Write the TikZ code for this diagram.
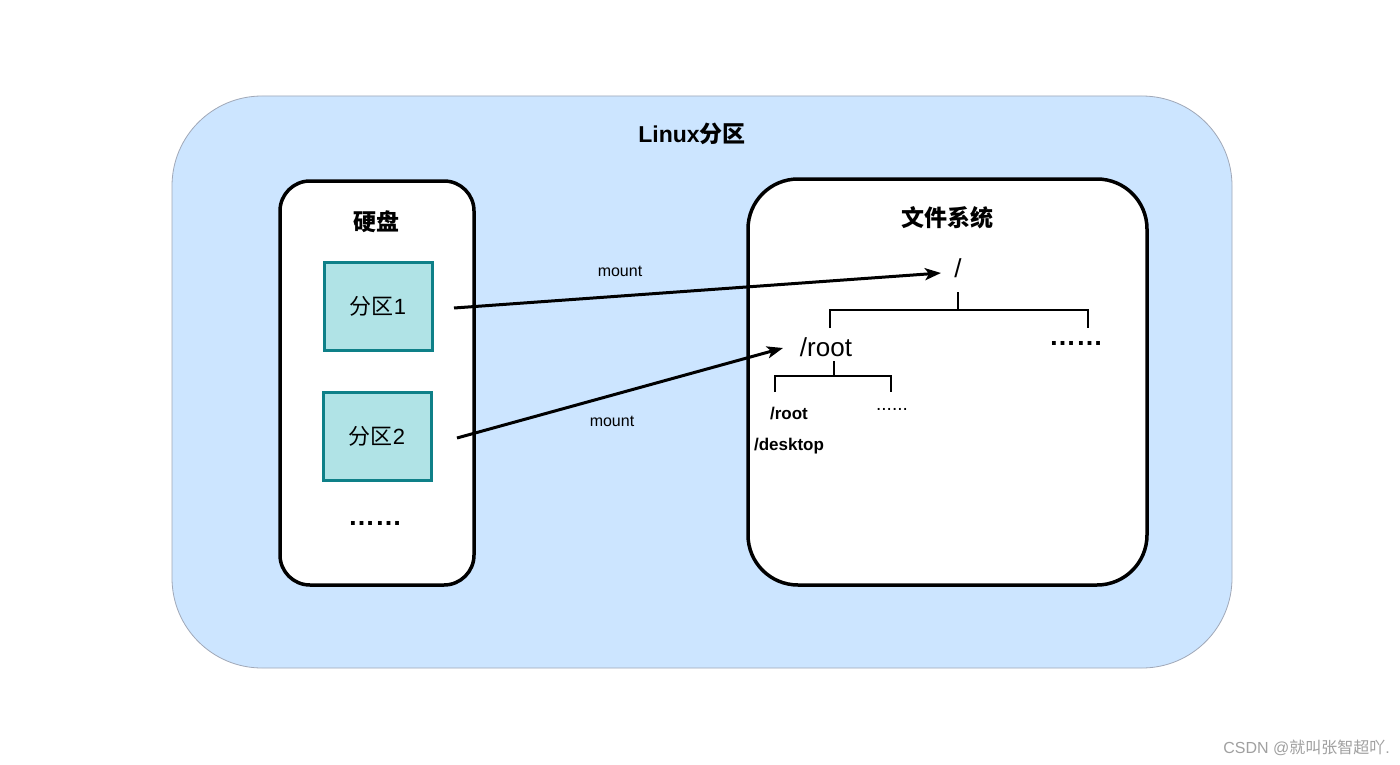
\documentclass[tikz,border=0pt]{standalone}
\usepackage{fontspec}
\setmainfont{Liberation Sans}
\newfontfamily\cjk{Noto Sans CJK SC}
\usetikzlibrary{arrows.meta}
\definecolor{outerfill}{HTML}{CCE5FF}
\definecolor{outerdraw}{HTML}{A0A8B8}
\definecolor{partfill}{HTML}{B0E3E6}
\definecolor{partdraw}{HTML}{0E8088}
\definecolor{wm}{HTML}{A0A0A0}
\tikzset{
  fsz/.style={font=\fontsize{#1}{#1}\selectfont},
  bigbox/.style={draw=black, line width=3.5pt, fill=white, inner sep=0pt},
  partbox/.style={draw=partdraw, fill=partfill, line width=3pt, minimum width=108pt, minimum height=88pt, inner sep=0pt, font=\fontsize{22}{22}\selectfont},
  arr/.style={line width=3pt, -{Stealth[length=16pt,width=12pt,inset=4pt]}},
  tree/.style={line width=1.6pt},
  lbl/.style={inner sep=0pt},
}
\begin{document}
\begin{tikzpicture}[x=1pt,y=-1pt]
\useasboundingbox (0,0) rectangle (1400,765);
\fill[white] (0,0) rectangle (1400,765);
% outer
\draw[draw=outerdraw, fill=outerfill, line width=0.8pt, rounded corners=90pt] (172,96) rectangle (1232,668);
\node[lbl, fsz=23] (title) at (692,134) {\bfseries Linux{\cjk\bfseries 分区}};
% disk box
\draw[bigbox, rounded corners=30pt] (280,181) rectangle (474,585);
\node[lbl, fsz=23] (disk) at (376,222) {\cjk\bfseries 硬盘};
\node[partbox] (p1) at (378,306) {{\cjk 分区}1};
\node[partbox] (p2) at (377,436) {{\cjk 分区}2};
\node[lbl, fsz=27] (ddots) at (375,523) {\bfseries ……};
% fs box
\draw[bigbox, rounded corners=50pt] (748,179) rectangle (1147,585);
\node[lbl, fsz=23] (fs) at (947,218) {\cjk\bfseries 文件系统};
\node[lbl, fsz=26] (slash) at (958,268) {/};
\node[lbl, fsz=26] (root) at (826,347) {/root};
\node[lbl, fsz=27] (rdots) at (1076,343) {\bfseries ……};
\node[lbl, fsz=17, align=center] (sub) at (789,431) {\bfseries /root\\[14pt]\bfseries /desktop};
\node[lbl, fsz=19] (sdots) at (892,409) {......};
% tree lines
\coordinate (t1) at (958,292);
\coordinate (t1m) at (958,310);
\coordinate (t1l) at (830,310);
\coordinate (t1r) at (1088,310);
\coordinate (t1ld) at (830,328);
\coordinate (t1rd) at (1088,328);
\draw[tree] (t1) -- (t1m);
\draw[tree] (t1ld) -- (t1l) -- (t1r) -- (t1rd);
\coordinate (t2) at (834,361);
\coordinate (t2m) at (834,376);
\coordinate (t2l) at (775,376);
\coordinate (t2r) at (891,376);
\coordinate (t2ld) at (775,392);
\coordinate (t2rd) at (891,392);
\draw[tree] (t2) -- (t2m);
\draw[tree] (t2ld) -- (t2l) -- (t2r) -- (t2rd);
% arrows
\coordinate (a1s) at (454,308);
\coordinate (a1e) at (941,273);
\coordinate (a2s) at (457,438);
\coordinate (a2e) at (783,348);
\draw[arr] (a1s) -- (a1e);
\draw[arr] (a2s) -- (a2e);
\node[lbl, fsz=16] (m1) at (620,271) {mount};
\node[lbl, fsz=16] (m2) at (612,421) {mount};
% watermark
\node[lbl, fsz=16, text=wm, anchor=east] (wmk) at (1390,748) {CSDN @{\cjk 就叫张智超吖}.};
\end{tikzpicture}
\end{document}
